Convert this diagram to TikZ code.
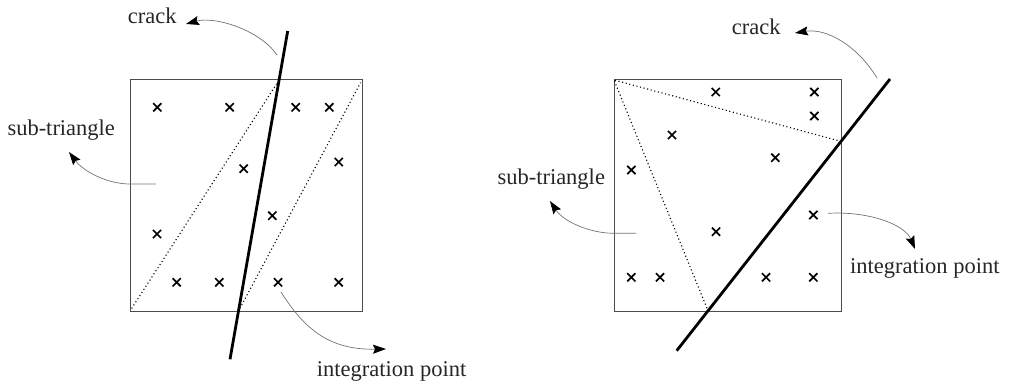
\documentclass[tikz,border=0pt]{standalone}
\usepackage{fontspec}
\setmainfont{Liberation Serif}
\usetikzlibrary{arrows.meta,shapes.misc}
\begin{document}
\begin{tikzpicture}[x=1pt,y=-1pt,
  ip/.style={cross out,draw=black,minimum size=6.5pt,inner sep=0pt,line width=1.7pt},
  lbl/.style={anchor=base west,inner sep=0pt,font=\fontsize{22.5}{26}\selectfont,text=black!85},
  elem/.style={draw=black!70,line width=1pt},
  crackline/.style={draw=black,line width=2.8pt},
  subline/.style={draw=black,line width=1.1pt,dash pattern=on 1.1pt off 2.6pt,shorten <=3pt,shorten >=3pt},
  callout/.style={draw=black!55,line width=0.7pt,-{Stealth[length=13pt,width=9pt,inset=2pt,black]}}]
\useasboundingbox (0,0) rectangle (1011,387);
% ---------- left element ----------
\coordinate (A1) at (130,80);
\coordinate (A2) at (362,80);
\coordinate (A3) at (362,311);
\coordinate (A4) at (130,311);
\draw[elem] (A1) rectangle (A3);
\coordinate (Ct) at (287.7,31);
\coordinate (Cb) at (230,359.3);
\coordinate (Xt) at (279.1,80);
\coordinate (Xb) at (238.5,311);
\draw[subline] (A4) -- (Xt);
\draw[subline] (Xb) -- (A2);
\draw[crackline] (Ct) -- (Cb);
\node[ip] (p1) at (157.3,107.3) {};
\node[ip] (p2) at (229.7,107.3) {};
\node[ip] (p3) at (295.7,107.3) {};
\node[ip] (p4) at (329.3,107.3) {};
\node[ip] (p5) at (338.7,162) {};
\node[ip] (p6) at (243.7,168.7) {};
\node[ip] (p7) at (272.3,215.7) {};
\node[ip] (p8) at (157,234) {};
\node[ip] (p9) at (176.7,282.3) {};
\node[ip] (p10) at (219.3,282.3) {};
\node[ip] (p11) at (278,282.3) {};
\node[ip] (p12) at (338.7,282.3) {};
\node[lbl] (crackL) at (127.7,24) {crack};
\node[lbl] (subL) at (7.3,136) {sub-triangle};
\node[lbl] (intL) at (316.7,376.7) {integration point};
\coordinate (crackLs) at (277,55);
\coordinate (crackLt) at (186,24);
\draw[callout] (crackLs) .. controls (260,30) and (215,16) .. (crackLt);
\coordinate (subLs) at (155.7,184);
\coordinate (subLt) at (69,152);
\draw[callout] (subLs) -- (130,184) .. controls (108,184) and (84,172) .. (subLt);
\coordinate (intLs) at (281,292);
\coordinate (intLt) at (386,349);
\draw[callout] (intLs) .. controls (305,330) and (330,350) .. (intLt);
% ---------- right element ----------
\coordinate (B1) at (614,80);
\coordinate (B2) at (841,80);
\coordinate (B3) at (841,311);
\coordinate (B4) at (614,311);
\draw[elem] (B1) rectangle (B3);
\coordinate (Dt) at (890,79);
\coordinate (Db) at (676.7,350.7);
\coordinate (Yr) at (841,141.4);
\coordinate (Yb) at (708.1,311);
\draw[subline,shorten <=1pt] (B1) -- (Yr);
\draw[subline,shorten <=1pt] (B1) -- (Yb);
\draw[crackline] (Dt) -- (Db);
\node[ip] (q1) at (715.7,92) {};
\node[ip] (q2) at (814.3,92) {};
\node[ip] (q3) at (814.3,116) {};
\node[ip] (q4) at (672,135) {};
\node[ip] (q5) at (775.3,157.7) {};
\node[ip] (q6) at (631.3,170) {};
\node[ip] (q7) at (813.3,215) {};
\node[ip] (q8) at (716,231.7) {};
\node[ip] (q9) at (631.3,277.3) {};
\node[ip] (q10) at (660,277.3) {};
\node[ip] (q11) at (766,277.3) {};
\node[ip] (q12) at (813.3,277.3) {};
\node[lbl] (crackR) at (731.7,35) {crack};
\node[lbl] (subR) at (497.3,185) {sub-triangle};
\node[lbl] (intR) at (850,273.3) {integration point};
\coordinate (crackRs) at (877,78);
\coordinate (crackRt) at (795,33);
\draw[callout] (crackRs) .. controls (857,45) and (826,28) .. (crackRt);
\coordinate (subRs) at (636,233.3);
\coordinate (subRt) at (550,201);
\draw[callout] (subRs) -- (613,233.3) .. controls (590,233) and (564,222) .. (subRt);
\coordinate (intRs) at (828,213.3);
\coordinate (intRt) at (915,249);
\draw[callout] (intRs) .. controls (870,211) and (905,225) .. (intRt);
\end{tikzpicture}
\end{document}
